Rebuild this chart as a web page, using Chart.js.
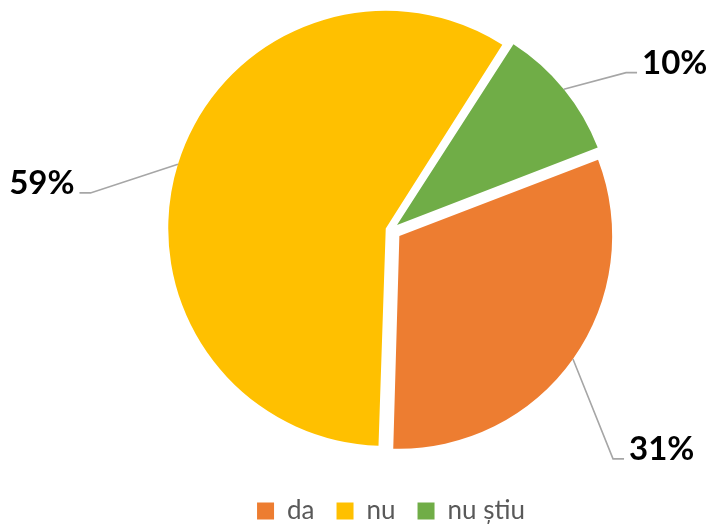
<!DOCTYPE html>
<html>
<head>
<meta charset="utf-8">
<script src="https://cdn.jsdelivr.net/npm/chart.js@4/dist/chart.umd.min.js"></script>
<style>
  html, body { margin: 0; padding: 0; background: #fff; }
  #wrap { width: 712px; height: 527px; }
</style>
</head>
<body>
<div id="wrap"><canvas id="pieChart" width="712" height="527"></canvas></div>
<script>
// data (slice angles), labels show them rounded
const categories = ['da', 'nu', 'nu știu'];
const shares = [31.3, 58.6, 10.1];
const sliceColors = ['#ED7D31', '#FFC000', '#70AD47'];

// where each percent label sits, relative to its slice (degrees off the bisector, px from slice centre)
const labelAngleShift = [10.9, -10.5, 5.6];
const labelDistance = [308, 292, 272];

const pieLabels = {
  id: 'pieLabels',
  afterDatasetsDraw(chart) {
    const ctx = chart.ctx;
    const meta = chart.getDatasetMeta(0);
    ctx.save();
    meta.data.forEach((arc, i) => {
      const p = arc.getProps(['x', 'y', 'startAngle', 'endAngle', 'outerRadius', 'circumference']);
      const mid = (p.startAngle + p.endAngle) / 2;
      // same shift chart.js applies for the offset option
      const off = (arc.options.offset || 0) / 4;
      const fix = 1 - Math.sin(Math.min(Math.PI, p.circumference || 0));
      const t = off * (1 + fix);
      const cx = p.x + Math.cos(mid) * t;
      const cy = p.y + Math.sin(mid) * t;

      const sx = cx + Math.cos(mid) * p.outerRadius;
      const sy = cy + Math.sin(mid) * p.outerRadius;
      const a = mid + labelAngleShift[i] * Math.PI / 180;
      const ex = cx + Math.cos(a) * labelDistance[i];
      const ey = cy + Math.sin(a) * labelDistance[i];
      const dir = Math.cos(a) >= 0 ? 1 : -1;

      ctx.strokeStyle = '#A6A6A6';
      ctx.lineWidth = 1.6;
      ctx.beginPath();
      ctx.moveTo(sx, sy);
      ctx.lineTo(ex, ey);
      ctx.lineTo(ex + dir * 11, ey);
      ctx.stroke();

      ctx.fillStyle = '#000';
      ctx.font = 'bold 33px Lato, "Open Sans", sans-serif';
      ctx.textBaseline = 'alphabetic';
      ctx.textAlign = dir > 0 ? 'left' : 'right';
      ctx.fillText(Math.round(shares[i]) + '%', ex + dir * 16, ey + 1);
    });
    ctx.restore();
  }
};

new Chart(document.getElementById('pieChart'), {
  type: 'pie',
  data: {
    labels: categories,
    datasets: [{
      data: shares,
      backgroundColor: sliceColors,
      borderWidth: 0,
      offset: [41, 22, 31],
      hoverOffset: 0,
      radius: 212
    }]
  },
  options: {
    responsive: false,
    animation: false,
    rotation: 69,
    layout: { padding: { left: 70, right: 0, top: 0, bottom: -7 } },
    plugins: {
      tooltip: { enabled: false },
      legend: {
        position: 'bottom',
        // empty title only pushes the legend row down a bit
        title: { display: true, text: '', padding: 0, font: { size: 10, lineHeight: '16px' } },
        labels: {
          boxWidth: 17,
          boxHeight: 17,
          padding: 22,
          color: '#595959',
          font: { family: 'Lato, "Open Sans", sans-serif', size: 26 }
        }
      }
    }
  },
  plugins: [pieLabels]
});
</script>
</body>
</html>
